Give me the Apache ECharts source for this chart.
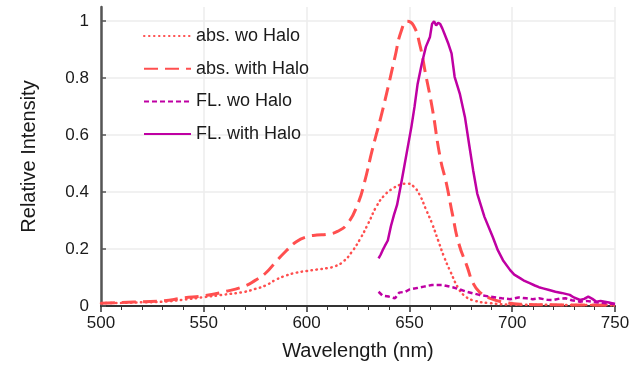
<!DOCTYPE html>
<html><head><meta charset="utf-8">
<script src="https://cdn.jsdelivr.net/npm/echarts@6/dist/echarts.min.js"></script>
<style>html,body{margin:0;padding:0;background:#fff}#c{width:639px;height:367px}</style>
</head><body><div id="c"></div>
<script>
const seriesNames = ['abs. wo Halo', 'abs. with Halo', 'FL. wo Halo', 'FL. with Halo'];
const xTicks = [500, 550, 600, 650, 700, 750];
const yTicks = [0, 0.2, 0.4, 0.6, 0.8, 1];

const absWoX = [500,510,520,530,540,550,560,570,575,580,585,590,595,600,605,610,614,618,622,626,630,634,638,642,646,649,652,655,658,661,664,667,670,674,677,681,689,700,720,750];
const absWoY = [0.010,0.011,0.013,0.015,0.022,0.031,0.040,0.050,0.060,0.072,0.092,0.107,0.117,0.123,0.128,0.133,0.140,0.157,0.190,0.235,0.290,0.350,0.390,0.413,0.427,0.430,0.420,0.390,0.340,0.290,0.230,0.170,0.120,0.060,0.035,0.020,0.010,0.005,0.004,0.003];

const absWithX = [500,510,520,530,540,550,560,570,575,580,585,590,595,600,605,610,615,620,625,628,632,636,640,643,646,649,652,655,658,661,665,668,671,674,678,681,684,689,697,705,720,750];
const absWithY = [0.010,0.012,0.015,0.018,0.028,0.036,0.050,0.070,0.090,0.115,0.155,0.193,0.226,0.243,0.249,0.252,0.262,0.290,0.360,0.430,0.550,0.660,0.780,0.875,0.965,1.000,0.985,0.920,0.810,0.700,0.520,0.430,0.320,0.220,0.140,0.080,0.050,0.028,0.012,0.006,0.004,0.003];

const flWoX = [635,637,640,643,645,648,650,653,657,661,666,671,678,684,689,695,699,703,707,710,713,717,720,723,726,729,733,736,739,742,746,750];
const flWoY = [0.050,0.036,0.033,0.027,0.047,0.050,0.058,0.062,0.068,0.074,0.074,0.066,0.050,0.039,0.033,0.027,0.024,0.030,0.027,0.024,0.027,0.022,0.021,0.026,0.027,0.020,0.015,0.018,0.015,0.012,0.010,0.007];

const flWithX = [635,636,637,638,639.5,641,642.5,644,646,647.5,649,651,652.5,654,656,658,660,661,662,663,664,665,666,667,669,670.5,672,674.5,677,679,681,683,686.5,690.5,693,695.5,699,701,704,706,708.5,711,713,715,718,721,724,728,730,733,735,737,739,741,743,745,747,750];
const flWithY = [0.167,0.180,0.196,0.210,0.230,0.280,0.320,0.355,0.430,0.490,0.550,0.630,0.700,0.780,0.850,0.910,0.945,0.990,1.000,0.985,0.995,0.990,0.975,0.957,0.920,0.887,0.805,0.746,0.664,0.570,0.477,0.395,0.313,0.243,0.196,0.161,0.126,0.110,0.097,0.088,0.080,0.072,0.066,0.062,0.056,0.050,0.046,0.039,0.030,0.021,0.025,0.033,0.025,0.015,0.018,0.015,0.012,0.007];

const zip = (xs, ys) => xs.map((x, i) => [x, ys[i]]);
const RED = '#ff4f4f', MAG = '#bf00a3';
const FONT = 'Liberation Sans';

const chart = echarts.init(document.getElementById('c'), null, {renderer: 'canvas'});
chart.setOption({
  animation: false,
  backgroundColor: '#fff',
  textStyle: {fontFamily: FONT},
  grid: {left: 101, right: 24, top: 7, bottom: 61},
  legend: {
    orient: 'vertical', left: 143, top: 26, padding: 0,
    itemWidth: 47, itemHeight: 20, itemGap: 12.7,
    itemStyle: {opacity: 0},
    textStyle: {fontFamily: FONT, fontSize: 18, color: '#1a1a1a', lineHeight: 20},
    data: seriesNames
  },
  xAxis: {
    type: 'value', min: 500, max: 750, interval: 50,
    name: 'Wavelength (nm)', nameLocation: 'middle', nameGap: 35,
    nameTextStyle: {fontFamily: FONT, fontSize: 20, color: '#1a1a1a'},
    axisLine: {lineStyle: {color: '#333', width: 2}},
    axisTick: {show: true, length: 6, lineStyle: {color: '#333', width: 1.5}},
    minorTick: {show: true, splitNumber: 5, length: 4, lineStyle: {color: '#333', width: 1}},
    axisLabel: {fontFamily: FONT, fontSize: 17, color: '#1a1a1a', margin: 9,
      formatter: v => xTicks.includes(v) ? String(v) : ''},
    splitLine: {show: true, lineStyle: {color: '#ececec', width: 1.5}}
  },
  yAxis: {
    type: 'value', min: 0, max: 1.05, interval: 0.2,
    name: 'Relative Intensity', nameLocation: 'middle', nameGap: 62, nameRotate: 90,
    nameTextStyle: {fontFamily: FONT, fontSize: 20, color: '#1a1a1a'},
    axisLine: {show: true, lineStyle: {color: '#555', width: 2.5}},
    axisTick: {show: true, inside: true, length: 5, lineStyle: {color: '#555', width: 1.5}},
    axisLabel: {fontFamily: FONT, fontSize: 17, color: '#1a1a1a', margin: 12, showMaxLabel: false,
      formatter: v => { const t = yTicks.find(k => Math.abs(k - v) < 1e-6); return t === undefined ? '' : String(t); }},
    splitLine: {show: true, showMaxLine: false, lineStyle: {color: '#ececec', width: 1.5}}
  },
  series: [
    {name: seriesNames[0], type: 'line', symbol: 'none', smooth: true, data: zip(absWoX, absWoY),
      lineStyle: {color: RED, width: 2.5, type: [0.5, 4.5], cap: 'round'}, itemStyle: {color: RED}},
    {name: seriesNames[1], type: 'line', symbol: 'none', smooth: true, data: zip(absWithX, absWithY),
      lineStyle: {color: RED, width: 3, type: [14, 7]}, itemStyle: {color: RED}},
    {name: seriesNames[2], type: 'line', symbol: 'none', data: zip(flWoX, flWoY),
      lineStyle: {color: MAG, width: 2.5, type: [5, 3]}, itemStyle: {color: MAG}},
    {name: seriesNames[3], type: 'line', symbol: 'none', data: zip(flWithX, flWithY),
      lineStyle: {color: MAG, width: 2.5}, itemStyle: {color: MAG}}
  ]
});
</script></body></html>
